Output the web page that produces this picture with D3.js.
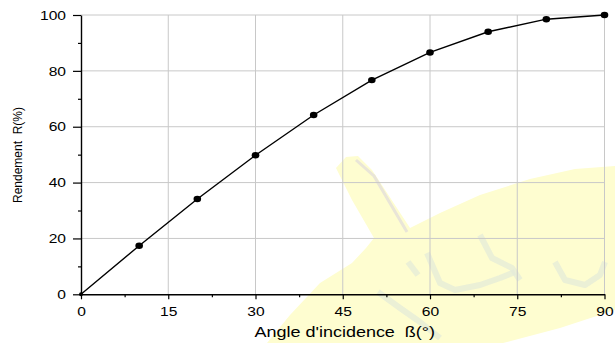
<!DOCTYPE html>
<html>
<head>
<meta charset="utf-8">
<script src="https://cdn.jsdelivr.net/npm/d3@7/dist/d3.min.js"></script>
<style>
  body { margin: 0; background: #fff; }
  svg { display: block; font-family: "Liberation Sans", Arial, sans-serif; }
</style>
</head>
<body>
<div id="chart"></div>
<script>
// data
const angles = [0, 10, 20, 30, 40, 50, 60, 70, 80, 90];
const rendement = [0, 17.4, 34.1, 49.8, 64.2, 76.7, 86.6, 94.0, 98.5, 100];
const xTicks = [0, 15, 30, 45, 60, 75, 90];
const yTicks = [0, 20, 40, 60, 80, 100];

const width = 615, height = 343;
const margin = { top: 15, right: 10.5, bottom: 48.7, left: 81 };
const stretch = 1.2; // the original text is a bit wide

const svg = d3.select('#chart').append('svg')
  .attr('width', width)
  .attr('height', height);

// faint yellow watermark behind the plot
const wm = svg.append('g').attr('class', 'watermark');
wm.append('path')
  .attr('d', 'M336,168 L346,157 L358,156 L372,170 L410,228 L440,213 L480,195 L530,179 L575,169 L615,166 L615,310 L560,328 L503,343 L267,343 L290,315 L320,283 L352,263 L366,248 L374,238 L352,200 Z')
  .style('fill', '#fefdd0');
wm.append('path')
  .attr('d', 'M356,160 L374,176 L407,232')
  .style('stroke', '#e9e5d8').style('stroke-width', 3).style('fill', 'none');
wm.selectAll('path.glyph')
  .data([
    'M427,253 L440,283 L455,290 L480,285 L500,278 L515,272',
    'M480,235 L492,258 L512,268 L520,280',
    'M555,262 L565,280 L585,285 L600,275 L605,262',
    'M378,292 L400,308 L420,322 L440,338',
    'M408,262 L418,275'
  ])
  .enter().append('path')
  .attr('class', 'glyph')
  .attr('d', d => d)
  .style('stroke', '#e4ebd8').style('stroke-width', 6).style('fill', 'none')
  .style('stroke-linejoin', 'round').style('opacity', 0.75);

const x = d3.scaleLinear().domain([0, 90]).range([margin.left, width - margin.right]);
const y = d3.scaleLinear().domain([0, 100]).range([height - margin.bottom, margin.top]);

// grid
svg.append('g').selectAll('line')
  .data(xTicks.filter(d => d > 0))
  .enter().append('line')
  .attr('x1', d => x(d)).attr('x2', d => x(d))
  .attr('y1', y(0)).attr('y2', y(100))
  .style('stroke', '#c8c8c8').style('stroke-width', 1);
svg.append('g').selectAll('line')
  .data(yTicks.filter(d => d > 0))
  .enter().append('line')
  .attr('x1', x(0)).attr('x2', x(90))
  .attr('y1', d => y(d)).attr('y2', d => y(d))
  .style('stroke', '#c8c8c8').style('stroke-width', 1);

// axes
svg.append('g')
  .attr('transform', `translate(0,${y(0)})`)
  .call(d3.axisBottom(x).tickValues(xTicks).tickSize(5).tickPadding(7).tickSizeOuter(0));
svg.append('g')
  .attr('transform', `translate(0,${y(0)})`)
  .call(d3.axisBottom(x).tickValues(d3.range(7.5, 90, 15)).tickSize(3).tickFormat('').tickSizeOuter(0))
  .select('.domain').remove();

svg.append('g')
  .attr('transform', `translate(${x(0)},0)`)
  .call(d3.axisLeft(y).tickValues(yTicks).tickSize(8).tickPadding(4.5).tickSizeOuter(0));
svg.append('g')
  .attr('transform', `translate(${x(0)},0)`)
  .call(d3.axisLeft(y).tickValues(d3.range(10, 100, 20)).tickSize(3).tickFormat('').tickSizeOuter(0))
  .select('.domain').remove();

svg.selectAll('.domain').style('stroke', '#000').style('stroke-width', 1.4);
svg.selectAll('.tick line').style('stroke', '#000').style('stroke-width', 1.2);
svg.selectAll('.tick text')
  .style('font-size', '13px')
  .style('fill', '#000')
  .style('font-family', '"Liberation Sans", Arial, sans-serif')
  .attr('transform', `scale(${stretch},1)`);

// axis titles
svg.append('text')
  .attr('transform', `translate(${(x(0) + x(90)) / 2 + 2},337) scale(${stretch},1)`)
  .attr('text-anchor', 'middle')
  .style('font-size', '15px')
  .style('white-space', 'pre')
  .text('Angle d\'incidence  ß(°)');

svg.append('text')
  .attr('transform', `translate(22,155) rotate(-90)`)
  .attr('text-anchor', 'middle')
  .style('font-size', '12px')
  .style('white-space', 'pre')
  .text('Rendement  R(%)');

// curve + points
const pts = angles.map((a, i) => ({ a, r: rendement[i] }));
svg.append('path')
  .datum(pts)
  .attr('d', d3.line().x(d => x(d.a)).y(d => y(d.r)))
  .style('fill', 'none')
  .style('stroke', '#000')
  .style('stroke-width', 1.4);

svg.append('g').selectAll('ellipse')
  .data(pts)
  .enter().append('ellipse')
  .attr('cx', d => x(d.a))
  .attr('cy', d => y(d.r))
  .attr('rx', d => d.a === 0 ? 2 : 3.8)
  .attr('ry', d => d.a === 0 ? 2 : 3.2)
  .style('fill', '#000');
</script>
</body>
</html>
